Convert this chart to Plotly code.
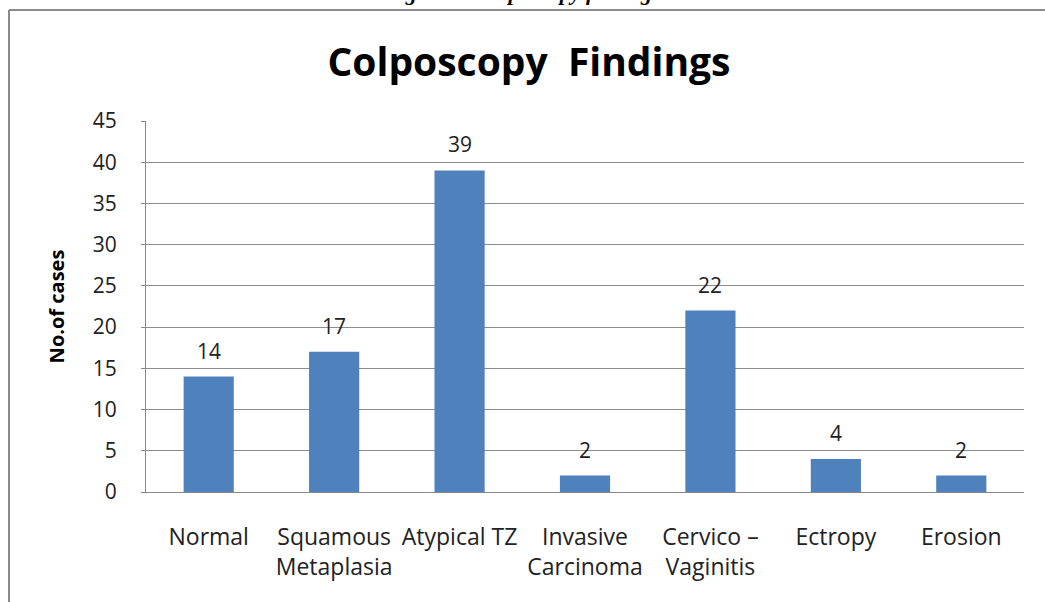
import plotly.graph_objects as go

categories = ["Normal", "Squamous<br>Metaplasia", "Atypical TZ", "Invasive<br>Carcinoma",
              "Cervico –<br>Vaginitis", "Ectropy", "Erosion"]
cases = [14, 17, 39, 2, 22, 4, 2]
y_ticks = [0, 5, 10, 15, 20, 25, 30, 35, 40, 45]

W, H = 1045, 602
L, R, T, B = 146, 21, 121, 110
FONT = "Open Sans"


def px_x(p):
    return (p - L) / (W - L - R)


def px_y(p):
    return (H - B - p) / (H - T - B)


fig = go.Figure(go.Bar(x=categories, y=cases, marker_color="#4F81BD", marker_line_width=0))

# value labels above the bars
for cat, val in zip(categories, cases):
    fig.add_annotation(x=cat, y=val, text=str(val), showarrow=False, yanchor="middle",
                       yshift=26, font=dict(family=FONT, size=21, color="#222222"))

fig.update_layout(
    width=W, height=H, margin=dict(l=L, r=R, t=T, b=B),
    paper_bgcolor="white", plot_bgcolor="white", showlegend=False,
    bargap=0.6,
    title=dict(text="<b>Colposcopy  Findings</b>", x=529 / W, xanchor="center",
               y=1 - 62 / H, yanchor="middle",
               font=dict(family=FONT, size=39, color="black")),
    font=dict(family=FONT, color="#222222"),
)
fig.update_xaxes(showline=True, linecolor="#888888", linewidth=1, showgrid=False,
                 ticks="", ticklabelstandoff=24,
                 tickfont=dict(family=FONT, size=23, color="#222222"))
fig.update_yaxes(range=[0, 45], tickvals=y_ticks, showline=True, linecolor="#888888",
                 linewidth=1, gridcolor="#8c8c8c", gridwidth=1, zeroline=False,
                 ticks="outside", ticklen=4, tickcolor="#888888", ticklabelstandoff=20,
                 tickfont=dict(family=FONT, size=21, color="#222222"),
                 title=dict(text="<b>No.of cases</b>", standoff=22,
                            font=dict(family=FONT, size=20, color="black")))

# border of the chart frame (left and top edges) and the clipped caption above it
fig.add_shape(type="line", xref="paper", yref="paper", x0=px_x(9), x1=px_x(W + 5),
              y0=px_y(10), y1=px_y(10), line=dict(color="#8a8a8a", width=2))
fig.add_shape(type="line", xref="paper", yref="paper", x0=px_x(9), x1=px_x(9),
              y0=px_y(10), y1=px_y(H + 5), line=dict(color="#8a8a8a", width=2))
fig.add_annotation(text="<b><i>Figure -2 Colposcopy findings</i></b>", xref="paper", yref="paper",
                   x=px_x(522), y=px_y(7), xanchor="center", yanchor="bottom", showarrow=False,
                   font=dict(family="Liberation Serif", size=22, color="black"))

fig.write_html("out.html", config={"displayModeBar": False},
               post_script="document.body.style.margin = '0';")
